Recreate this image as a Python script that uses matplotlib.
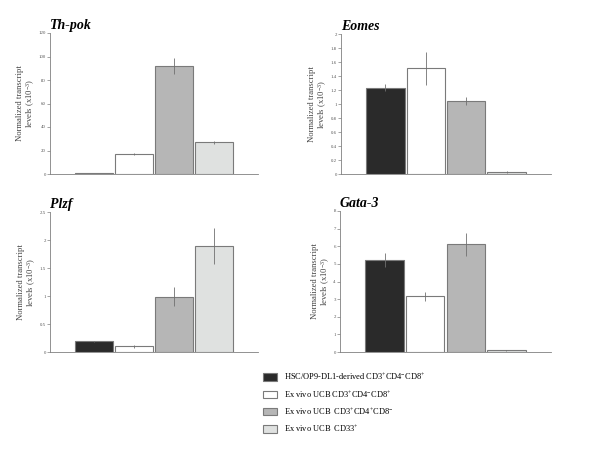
import matplotlib
matplotlib.use('Agg')
import matplotlib.pyplot as plt
import numpy as np

plt.rcParams['font.family'] = ['Liberation Serif', 'DejaVu Serif']
plt.rcParams['mathtext.fontset'] = 'custom'
plt.rcParams['mathtext.rm'] = 'Liberation Serif'
plt.rcParams['mathtext.it'] = 'Liberation Serif:italic'
plt.rcParams['mathtext.bf'] = 'Liberation Serif:bold'
plt.rcParams['mathtext.default'] = 'rm'

# 数据
genes = ['Th-pok', 'Eomes', 'Plzf', 'Gata-3']
groups = ['HSC/OP9-DL1-derived CD3$^{+}$CD4$^{-}$CD8$^{+}$',
          'Ex vivo UCB CD3$^{+}$CD4$^{-}$CD8$^{+}$',
          'Ex vivo UCB  CD3$^{+}$CD4$^{+}$CD8$^{-}$',
          'Ex vivo UCB  CD33$^{+}$']
colors = ['#2a2a2a', '#ffffff', '#b6b6b6', '#dfe1e0']

thpok = [0.8, 17, 92, 27]
thpok_err = [0.2, 1, 6.5, 1.5]
eomes = [1.23, 1.51, 1.04, 0.03]
eomes_err = [0.05, 0.24, 0.06, 0.015]
plzf = [0.19, 0.10, 0.99, 1.90]
plzf_err = [0.015, 0.02, 0.17, 0.32]
gata3 = [5.2, 3.15, 6.1, 0.1]
gata3_err = [0.4, 0.25, 0.65, 0.03]

values = [thpok, eomes, plzf, gata3]
errors = [thpok_err, eomes_err, plzf_err, gata3_err]
yticks = [np.arange(0, 121, 20), np.arange(0, 2.01, 0.2),
          np.arange(0, 2.51, 0.5), np.arange(0, 8.1, 1)]

# 各子图像素位置 (左, 右, 上, 下)
boxes = [(50, 258, 33, 174), (341, 551, 34, 174),
         (50, 258, 212, 352), (340, 551, 211, 352)]

W, H = 600, 450
fig = plt.figure(figsize=(6, 4.5), dpi=100)
fig.patch.set_facecolor('white')

x = np.array([1.1, 2.1, 3.1, 4.1])
handles = None
for k in range(4):
    l, r, t, b = boxes[k]
    ax = fig.add_axes([l / W, 1 - b / H, (r - l) / W, (b - t) / H])
    bars = ax.bar(x, values[k], width=0.95, color=colors, edgecolor='#7a7a7a',
                  linewidth=0.8, yerr=errors[k],
                  error_kw=dict(ecolor='#707070', elinewidth=0.6, capsize=0))
    if handles is None:
        handles = bars
    ax.set_xlim(0, 5.2)
    ax.set_ylim(yticks[k][0], yticks[k][-1])
    ax.set_yticks(yticks[k])
    ax.set_yticklabels(['%g' % round(v, 1) for v in yticks[k]])
    ax.set_xticks([])
    for s in ['top', 'right']:
        ax.spines[s].set_visible(False)
    for s in ['left', 'bottom']:
        ax.spines[s].set_color('#808080')
        ax.spines[s].set_linewidth(0.6)
    ax.tick_params(axis='y', labelsize=3.5, length=2, width=0.5,
                   color='#808080', labelcolor='#555555', pad=1)
    ax.set_ylabel('Normalized transcript\nlevels (x10$^{-3}$)', fontsize=6.2,
                  color='#444444', labelpad=1, linespacing=1.05)
    ax.text(0, 1.005, genes[k], transform=ax.transAxes, fontsize=10,
            fontweight='bold', fontstyle='italic', ha='left', va='bottom')

fig.legend(handles, groups, loc='upper left', bbox_to_anchor=(260 / W, 1 - 368 / H),
           frameon=False, fontsize=6, handlelength=1.6, handleheight=1.0,
           labelspacing=0.75, handletextpad=0.9, borderaxespad=0)

fig.savefig('out.png', dpi=100)
